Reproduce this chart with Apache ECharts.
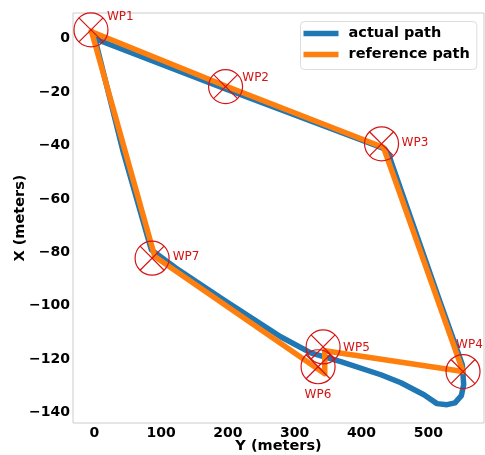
<!DOCTYPE html>
<html><head><meta charset="utf-8">
<script src="https://cdn.jsdelivr.net/npm/echarts@6/dist/echarts.min.js"></script>
<style>html,body{margin:0;padding:0;background:#fff}#c{width:485px;height:455px}</style>
</head><body><div id="c"></div>
<script>
// Tick labels
const xTicks = [0, 100, 200, 300, 400, 500];
const yTicks = [0, -20, -40, -60, -80, -100, -120, -140];

// Waypoints (horizontal = Y meters, vertical = X meters)
const wpNames = ['WP1', 'WP2', 'WP3', 'WP4', 'WP5', 'WP6', 'WP7'];
const wpY = [-5, 196.5, 430, 552, 342.5, 335, 86.5];
const wpX = [3.2, -18.0, -39.4, -124.6, -115.4, -122.8, -82.2];

// Reference path
const refY = [-4, 196.5, 433, 552, 345, 345, 90.5, -4];
const refX = [2.5, -17.8, -40.8, -124.6, -116.8, -125.4, -81.6, 2.5];

// Actual path
const actY = [0, 196.5, 421.5, 435, 441.5, 446.5, 516.5, 540.5, 551, 553, 549.5, 540, 528, 513, 493.5, 459, 429, 369, 324, 279, 193.5, 121.5, 85.5, 81, 42.5, 1.5];
const actX = [0, -18.9, -40.0, -41.3, -43.9, -47.7, -97.8, -114.6, -122.1, -129.5, -133.6, -136.3, -137.0, -136.6, -133.3, -128.8, -125.8, -120.9, -117.6, -111.6, -97.8, -85.8, -79.1, -75.3, -41.7, -0.6];

// Layout for waypoint labels (pixel offsets from marker centre)
const labelOffsets = [[16, -12.7], [16.7, -9], [20, -0.7], [-7, -27], [20, 1], [-13.5, 28], [20.6, -1.6]];

const RED = '#d41414';
const BLUE = '#1f77b4';
const ORANGE = '#ff7f0e';
const FONT = 'DejaVu Sans';
const minusFix = v => String(v).replace('-', '\u2212');

const zip = (a, b) => a.map((v, i) => [v, b[i]]);

const chart = echarts.init(document.getElementById('c'), null, {renderer: 'canvas'});
chart.setOption({
  animation: false,
  backgroundColor: '#ffffff',
  grid: {left: 73, top: 13, right: 1, bottom: 32, show: true, borderColor: '#cccccc', borderWidth: 1, containLabel: false, outerBoundsMode: 'none'},
  legend: {
    orient: 'vertical', left: 300.5, top: 21.5,
    padding: [4, 7, 7, 3], itemGap: 5,
    itemWidth: 35, itemHeight: 5.5,
    backgroundColor: 'rgba(255,255,255,0.85)', borderColor: '#dddddd', borderWidth: 1, borderRadius: 4,
    textStyle: {fontFamily: FONT, fontWeight: 'bold', fontSize: 14.5, color: '#000', lineHeight: 16, padding: [0, 0, 0, 5]},
    data: [{name: 'actual path', icon: 'rect', itemStyle: {color: BLUE}}, {name: 'reference path', icon: 'rect', itemStyle: {color: ORANGE}}]
  },
  xAxis: {
    type: 'value', min: -31.9, max: 583.4,
    name: 'Y (meters)', nameLocation: 'middle', nameGap: 15.5, nameMoveOverlap: false,
    nameTextStyle: {fontFamily: FONT, fontWeight: 'bold', fontSize: 14.5, color: '#000'},
    axisLine: {show: false}, axisTick: {show: false}, splitLine: {show: false},
    axisLabel: {customValues: xTicks, formatter: minusFix, margin: 3, fontFamily: FONT, fontWeight: 'bold', fontSize: 14, color: '#000'}
  },
  yAxis: {
    type: 'value', min: -143.85, max: 9.53,
    name: 'X (meters)', nameLocation: 'middle', nameGap: 45.5, nameRotate: 90, nameMoveOverlap: false,
    nameTextStyle: {fontFamily: FONT, fontWeight: 'bold', fontSize: 14.5, color: '#000'},
    axisLine: {show: false}, axisTick: {show: false}, splitLine: {show: false},
    axisLabel: {customValues: yTicks, formatter: minusFix, margin: 3, fontFamily: FONT, fontWeight: 'bold', fontSize: 14, color: '#000'}
  },
  series: [
    {
      name: 'actual path', type: 'line', data: zip(actY, actX), showSymbol: false, symbol: 'none',
      lineStyle: {color: BLUE, width: 5.5, cap: 'round', join: 'round'}, itemStyle: {color: BLUE}, z: 2
    },
    {
      name: 'reference path', type: 'line', data: zip(refY, refX), showSymbol: false, symbol: 'none',
      lineStyle: {color: ORANGE, width: 5.5, cap: 'square', join: 'round'}, itemStyle: {color: ORANGE}, z: 3
    },
    {
      name: 'waypoints', type: 'custom', data: zip(wpY, wpX), z: 4, silent: true,
      renderItem: function (params, api) {
        const i = params.dataIndex;
        const p = api.coord([api.value(0), api.value(1)]);
        const r = 17, d = r * Math.SQRT1_2;
        const off = labelOffsets[i];
        return {
          type: 'group', children: [
            {type: 'circle', shape: {cx: p[0], cy: p[1], r: r}, style: {fill: 'none', stroke: RED, lineWidth: 1.2}},
            {type: 'line', shape: {x1: p[0] - d, y1: p[1] - d, x2: p[0] + d, y2: p[1] + d}, style: {stroke: RED, lineWidth: 1.2}},
            {type: 'line', shape: {x1: p[0] - d, y1: p[1] + d, x2: p[0] + d, y2: p[1] - d}, style: {stroke: RED, lineWidth: 1.2}},
            {type: 'text', style: {x: p[0] + off[0], y: p[1] + off[1], text: wpNames[i], fill: RED, font: '12px "DejaVu Sans"', align: 'left', verticalAlign: 'middle'}}
          ]
        };
      }
    }
  ]
});
</script>
</body></html>
